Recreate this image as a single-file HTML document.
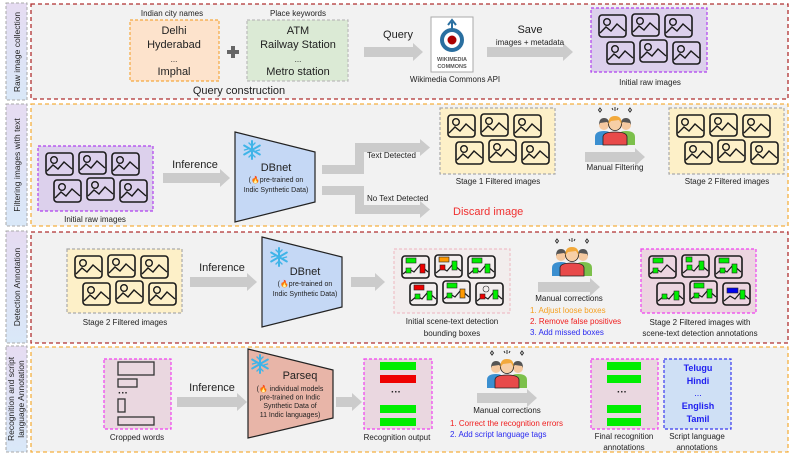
<!DOCTYPE html>
<html><head><meta charset="utf-8"><style>
html,body{margin:0;padding:0;background:#fff;}
svg{display:block;}
text{font-family:"Liberation Sans",sans-serif;fill:#222;}
.s{font-size:8px;}
.m{font-size:11px;}
</style></head><body>
<svg width="793" height="454" viewBox="0 0 793 454" xmlns="http://www.w3.org/2000/svg">
<defs>
<linearGradient id="lg" x1="0" y1="0" x2="0" y2="1"><stop offset="0" stop-color="#e6dcf2"/><stop offset="1" stop-color="#d9e8f8"/></linearGradient>
<g id="im"><rect x="1" y="1" width="27" height="22" rx="3" fill="none" stroke="#1a1a1a" stroke-width="1.6"/><circle cx="9" cy="8" r="3.3" fill="none" stroke="#1a1a1a" stroke-width="1.4"/><path d="M2,19 L8,13 L13,17 L19,10 L27,17" fill="none" stroke="#1a1a1a" stroke-width="1.4"/></g>
<g id="six"><use href="#im" x="7" y="6"/><use href="#im" x="40" y="5"/><use href="#im" x="73" y="6"/><use href="#im" x="15" y="33"/><use href="#im" x="48" y="31"/><use href="#im" x="81" y="33"/></g>
<g id="fr"><rect x="1" y="1" width="27" height="22" rx="3" fill="none" stroke="#1a1a1a" stroke-width="1.6"/><path d="M2,19 L8,14 L13,17 L19,10 L27,17" fill="none" stroke="#1a1a1a" stroke-width="1.2"/></g>
<g id="ppl">
<path d="M6,1 l1.5,2 -1.5,2 -1.5,-2z M21,0 l0,4 M18,1 l1,2 M24,1 l-1,2 M36,1 l1.5,2 -1.5,2 -1.5,-2z" stroke="#333" fill="none" stroke-width="1"/>
<path d="M1,38 L1,30 Q1,24 10,24 Q18,24 18,30 L18,38z" fill="#3b8fd0"/>
<path d="M24,38 L24,30 Q24,24 32,24 Q41,24 41,30 L41,38z" fill="#7cc04b"/>
<circle cx="10" cy="18" r="5" fill="#f5c9a0"/><path d="M5,18 Q5,11 10,11 Q15,11 15,17 L13,15 L6,16z" fill="#555"/>
<circle cx="32" cy="18" r="5" fill="#f5c9a0"/><path d="M27,17 Q27,11 32,11 Q37,11 37,18 L36,16 L29,15z" fill="#555"/>
<path d="M9,38 L9,30 Q9,25 21,25 Q33,25 33,30 L33,38z" fill="#e84a4a" stroke="#222" stroke-width="0.8"/>
<circle cx="21" cy="17" r="6.5" fill="#f7cfa6" stroke="#222" stroke-width="0.8"/><path d="M14.5,17 Q14,9 21,9 Q28,9 27.5,17 L25,13 L17,14z" fill="#f2a93b"/>
</g>
<g id="snow" stroke="#3fb4e8" stroke-width="2" stroke-linecap="round"><path d="M0,-9 V9 M-7.8,-4.5 L7.8,4.5 M-7.8,4.5 L7.8,-4.5"/><path d="M-3,-7 L0,-4 L3,-7 M-3,7 L0,4 L3,7 M-7.5,0 L-4,-1 M7.5,0 L4,1" stroke-width="1.4" fill="none"/></g>
</defs>

<!-- side labels -->
<g stroke="#aaa" stroke-dasharray="3,2" fill="url(#lg)">
<rect x="6" y="3" width="21" height="97"/><rect x="6" y="104" width="21" height="122"/><rect x="6" y="231" width="21" height="112"/><rect x="6" y="346" width="21" height="106"/>
</g>
<g class="s" font-size="8.5">
<text transform="translate(20,52) rotate(-90)" text-anchor="middle" style="font-size:8.5px">Raw image collection</text>
<text transform="translate(20,165) rotate(-90)" text-anchor="middle" style="font-size:8.5px">Filtering images with text</text>
<text transform="translate(20,287) rotate(-90)" text-anchor="middle" style="font-size:8.5px">Detection Annotation</text>
<text transform="translate(14,399) rotate(-90)" text-anchor="middle" style="font-size:8.5px">Recognition and script</text>
<text transform="translate(24,399) rotate(-90)" text-anchor="middle" style="font-size:8.5px">language Annotation</text>
</g>
<!-- row boxes -->
<g fill="#f2f2f2" stroke-width="1.3" stroke-dasharray="4,3">
<rect x="31" y="4" width="757" height="95" stroke="#b03030"/>
<rect x="31" y="104" width="757" height="122" stroke="#f5b040"/>
<rect x="31" y="232" width="757" height="111" stroke="#b03030"/>
<rect x="31" y="347" width="757" height="105" stroke="#f5b040"/>
</g>

<!-- arrows -->
<g fill="#cbcbcb">
<polygon points="364,47 413,47 413,43 423,52 413,61 413,57 364,57"/>
<polygon points="487,47 563,47 563,43 573,52 563,61 563,57 487,57"/>
<polygon points="163,173 220,173 220,169 230,178 220,187 220,183 163,183"/>
<polygon points="585,152 635,152 635,148 645,157 635,166 635,162 585,162"/>
<polygon points="190,277 247,277 247,273 257,282 247,291 247,287 190,287"/>
<polygon points="351,277 375,277 375,273 385,282 375,291 375,287 351,287"/>
<polygon points="538,282 590,282 590,278 600,287 590,296 590,292 538,292"/>
<polygon points="177,397 237,397 237,393 247,402 237,411 237,407 177,407"/>
<polygon points="336,397 352,397 352,393 362,402 352,411 352,407 336,407"/>
<polygon points="477,393 527,393 527,389 537,398 527,407 527,403 477,403"/>
<polygon points="322,174 364,174 364,152 420,152 420,156 430,147.5 420,139 420,143 355,143 355,165 322,165"/>
<polygon points="322,186 364,186 364,205 420,205 420,201 430,209.5 420,218 420,214 355,214 355,195 322,195"/>
</g>

<!-- ROW 1 -->
<text x="172" y="16" class="s" text-anchor="middle">Indian city names</text>
<rect x="130" y="20" width="89" height="61" fill="#fde3cc" stroke="#f5a840" stroke-width="1.2" stroke-dasharray="3,2"/>
<g class="m" text-anchor="middle"><text x="174" y="34">Delhi</text><text x="174" y="48">Hyderabad</text><text x="174" y="62" class="s">...</text><text x="174" y="75">Imphal</text></g>
<path d="M233,46 V58 M227,52 H239" stroke="#666" stroke-width="4"/>
<text x="298" y="16" class="s" text-anchor="middle">Place keywords</text>
<rect x="247" y="20" width="101" height="61" fill="#dbead5" stroke="#bbb" stroke-width="1.2" stroke-dasharray="3,2"/>
<g class="m" text-anchor="middle"><text x="298" y="34">ATM</text><text x="298" y="48">Railway Station</text><text x="298" y="62" class="s">...</text><text x="298" y="75">Metro station</text></g>
<text x="239" y="94" class="m" text-anchor="middle">Query construction</text>
<text x="398" y="38" class="m" text-anchor="middle">Query</text>
<rect x="431" y="17" width="42" height="55" fill="#fff" stroke="#aaa"/>
<circle cx="452" cy="40" r="10" fill="none" stroke="#2a6fa0" stroke-width="4"/>
<circle cx="452" cy="40" r="4.5" fill="#a00"/>
<path d="M452,30 L452,22 M448,25 L452,20 L456,25" stroke="#2a6fa0" stroke-width="2" fill="none"/>
<text x="452" y="61" text-anchor="middle" style="font-size:5.5px;font-weight:bold;fill:#555">WIKIMEDIA</text>
<text x="452" y="68" text-anchor="middle" style="font-size:5.5px;font-weight:bold;fill:#555">COMMONS</text>
<text x="455" y="82" class="s" text-anchor="middle">Wikimedia Commons API</text>
<text x="530" y="33" class="m" text-anchor="middle">Save</text>
<text x="530" y="45" class="s" text-anchor="middle">images + metadata</text>
<rect x="591" y="8" width="116" height="64" fill="#dcd0ec" stroke="#b040f0" stroke-width="1.2" stroke-dasharray="3,2"/>
<use href="#six" x="591" y="8"/>
<text x="650" y="85" class="s" text-anchor="middle">Initial raw images</text>

<!-- ROW 2 -->
<rect x="38" y="146" width="115" height="65" fill="#dcd0ec" stroke="#b040f0" stroke-width="1.2" stroke-dasharray="3,2"/>
<use href="#six" x="38" y="146"/>
<text x="95" y="222" class="s" text-anchor="middle">Initial raw images</text>
<text x="195" y="168" class="m" text-anchor="middle">Inference</text>
<polygon points="235,132 315,152 315,202 235,222" fill="#c5d8f5" stroke="#222" stroke-width="1.2"/>
<use href="#snow" x="252" y="150"/>
<text x="276" y="171" class="m" text-anchor="middle">DBnet</text>
<text x="276" y="182" class="s" text-anchor="middle" style="font-size:7px">(🔥pre-trained on</text>
<text x="276" y="192" class="s" text-anchor="middle" style="font-size:7px">Indic Synthetic Data)</text>
<text x="367" y="158" class="s">Text Detected</text>
<text x="367" y="201" class="s">No Text Detected</text>
<text x="453" y="215" class="m" style="fill:#f03030">Discard image</text>
<rect x="440" y="108" width="115" height="66" fill="#fdf0c8" stroke="#aaa" stroke-width="1.2" stroke-dasharray="3,2"/>
<use href="#six" x="440" y="108"/>
<text x="498" y="184" class="s" text-anchor="middle">Stage 1 Filtered images</text>
<use href="#ppl" x="594" y="107"/>
<text x="615" y="170" class="s" text-anchor="middle">Manual Filtering</text>
<rect x="669" y="108" width="115" height="66" fill="#fdf0c8" stroke="#aaa" stroke-width="1.2" stroke-dasharray="3,2"/>
<use href="#six" x="669" y="108"/>
<text x="727" y="184" class="s" text-anchor="middle">Stage 2 Filtered images</text>

<!-- ROW 3 -->
<rect x="67" y="249" width="115" height="64" fill="#fdf0c8" stroke="#aaa" stroke-width="1.2" stroke-dasharray="3,2"/>
<use href="#six" x="67" y="249"/>
<text x="125" y="325" class="s" text-anchor="middle">Stage 2 Filtered images</text>
<text x="222" y="271" class="m" text-anchor="middle">Inference</text>
<polygon points="262,237 342,257 342,307 262,327" fill="#c5d8f5" stroke="#222" stroke-width="1.2"/>
<use href="#snow" x="279" y="257"/>
<text x="305" y="275" class="m" text-anchor="middle">DBnet</text>
<text x="305" y="286" class="s" text-anchor="middle" style="font-size:7px">(🔥pre-trained on</text>
<text x="305" y="296" class="s" text-anchor="middle" style="font-size:7px">Indic Synthetic Data)</text>
<rect x="394" y="249" width="116" height="64" fill="#f2eded" stroke="#f0c0c8" stroke-width="1.2" stroke-dasharray="3,2"/>
<g transform="translate(394,249)">
<use href="#fr" x="7" y="6"/><use href="#fr" x="40" y="5"/><use href="#fr" x="73" y="6"/><use href="#fr" x="15" y="33"/><use href="#fr" x="48" y="31"/><use href="#fr" x="81" y="33"/>
<g stroke="#222" stroke-width="0.6">
<rect x="12" y="9" width="10" height="5" fill="#0e0"/><rect x="12" y="19" width="5" height="5" fill="#0e0"/><rect x="26" y="15" width="5" height="9" fill="#e00"/>
<rect x="45" y="8" width="10" height="5" fill="#f90"/><rect x="46" y="16" width="5" height="5" fill="#e00"/><rect x="58" y="12" width="5" height="9" fill="#0e0"/>
<rect x="78" y="9" width="10" height="5" fill="#0e0"/><rect x="79" y="19" width="5" height="5" fill="#0e0"/><rect x="91" y="15" width="5" height="9" fill="#0e0"/>
<rect x="20" y="36" width="10" height="5" fill="#e00"/><rect x="21" y="45" width="5" height="5" fill="#0e0"/><rect x="33" y="42" width="5" height="9" fill="#0e0"/>
<rect x="53" y="34" width="10" height="5" fill="#0e0"/><rect x="53" y="44" width="5" height="5" fill="#0e0"/><rect x="66" y="40" width="5" height="9" fill="#f90"/>
<circle cx="92" cy="40" r="3" fill="none"/><rect x="86" y="45" width="5" height="5" fill="#e00"/><rect x="99" y="41" width="5" height="9" fill="#0e0"/>
</g></g>
<text x="452" y="324" class="s" text-anchor="middle">Initial scene-text detection</text>
<text x="452" y="336" class="s" text-anchor="middle">bounding boxes</text>
<use href="#ppl" x="551" y="238"/>
<text x="569" y="301" class="s" text-anchor="middle">Manual corrections</text>
<text x="530" y="313" class="s" style="fill:#f5a020">1. Adjust loose boxes</text>
<text x="530" y="324" class="s" style="fill:#f02020">2. Remove false positives</text>
<text x="530" y="335" class="s" style="fill:#2a2af0">3. Add missed boxes</text>
<rect x="641" y="249" width="115" height="64" fill="#ecd5e0" stroke="#f040f0" stroke-width="1.2" stroke-dasharray="3,2"/>
<g transform="translate(641,249)">
<use href="#fr" x="7" y="6"/><use href="#fr" x="40" y="5"/><use href="#fr" x="73" y="6"/><use href="#fr" x="15" y="33"/><use href="#fr" x="48" y="31"/><use href="#fr" x="81" y="33"/>
<g stroke="#222" stroke-width="0.6" fill="#0e0">
<rect x="12" y="9" width="10" height="5"/><rect x="12" y="19" width="5" height="5"/>
<rect x="45" y="8" width="6" height="5"/><rect x="46" y="16" width="5" height="5"/><rect x="58" y="12" width="5" height="9"/>
<rect x="78" y="9" width="10" height="5"/><rect x="79" y="19" width="5" height="5"/><rect x="91" y="15" width="5" height="9"/>
<rect x="21" y="45" width="5" height="5"/><rect x="33" y="42" width="5" height="9"/>
<rect x="53" y="34" width="10" height="5"/><rect x="53" y="44" width="5" height="5"/><rect x="66" y="40" width="5" height="9"/>
<rect x="86" y="39" width="11" height="5" fill="#00e"/><rect x="99" y="41" width="5" height="9"/>
</g></g>
<text x="700" y="325" class="s" text-anchor="middle">Stage 2 Filtered images with</text>
<text x="700" y="336" class="s" text-anchor="middle">scene-text detection annotations</text>

<!-- ROW 4 -->
<rect x="104" y="359" width="67" height="70" fill="#ead7e0" stroke="#f040f0" stroke-width="1.2" stroke-dasharray="3,2"/>
<g fill="none" stroke="#333" stroke-width="1.3">
<rect x="118" y="362" width="36" height="13"/><rect x="118" y="379" width="19" height="8"/><rect x="118" y="399" width="7" height="13"/><rect x="118" y="417" width="36" height="8"/></g>
<text x="118" y="396" style="font-size:10px;font-weight:bold">···</text>
<text x="137" y="440" class="s" text-anchor="middle">Cropped words</text>
<text x="212" y="391" class="m" text-anchor="middle">Inference</text>
<polygon points="248,349 333,370 333,418 248,438" fill="#e8b5a8" stroke="#222" stroke-width="1.2"/>
<use href="#snow" x="260" y="364"/>
<text x="300" y="379" class="m" text-anchor="middle">Parseq</text>
<g class="s" text-anchor="middle" style="font-size:7px"><text x="290" y="391">(🔥 individual models</text><text x="290" y="399.5">pre-trained on Indic</text><text x="290" y="408">Synthetic Data of</text><text x="290" y="417">11 Indic languages)</text></g>
<rect x="364" y="359" width="68" height="70" fill="#ead7e0" stroke="#f040f0" stroke-width="1.2" stroke-dasharray="3,2"/>
<rect x="380" y="362" width="36" height="8" fill="#0e0"/><rect x="380" y="375" width="36" height="8" fill="#e00"/>
<text x="391" y="395" style="font-size:10px;font-weight:bold">···</text>
<rect x="380" y="405" width="36" height="8" fill="#0e0"/><rect x="380" y="418" width="36" height="8" fill="#0e0"/>
<text x="397" y="440" class="s" text-anchor="middle">Recognition output</text>
<use href="#ppl" x="486" y="350"/>
<text x="507" y="413" class="s" text-anchor="middle">Manual corrections</text>
<text x="450" y="426" class="s" style="fill:#f02020">1. Correct the recognition errors</text>
<text x="450" y="437" class="s" style="fill:#2a2af0">2. Add script language tags</text>
<rect x="591" y="359" width="67" height="70" fill="#ead7e0" stroke="#f040f0" stroke-width="1.2" stroke-dasharray="3,2"/>
<rect x="607" y="362" width="34" height="8" fill="#0e0"/><rect x="607" y="375" width="34" height="8" fill="#0e0"/>
<text x="617" y="395" style="font-size:10px;font-weight:bold">···</text>
<rect x="607" y="405" width="34" height="8" fill="#0e0"/><rect x="607" y="418" width="34" height="8" fill="#0e0"/>
<text x="624" y="439" class="s" text-anchor="middle">Final recognition</text>
<text x="624" y="450" class="s" text-anchor="middle">annotations</text>
<rect x="664" y="359" width="67" height="70" fill="#cfe0f5" stroke="#3a3af0" stroke-width="1.2" stroke-dasharray="3,2"/>
<g text-anchor="middle" style="font-size:9px;font-weight:bold"><text x="698" y="371" style="fill:#2020f0">Telugu</text><text x="698" y="384" style="fill:#2020f0">Hindi</text><text x="698" y="396" style="fill:#2020f0;font-weight:normal">...</text><text x="698" y="409" style="fill:#2020f0">English</text><text x="698" y="422" style="fill:#2020f0">Tamil</text></g>
<text x="697" y="439" class="s" text-anchor="middle">Script language</text>
<text x="697" y="450" class="s" text-anchor="middle">annotations</text>
</svg>
</body></html>
